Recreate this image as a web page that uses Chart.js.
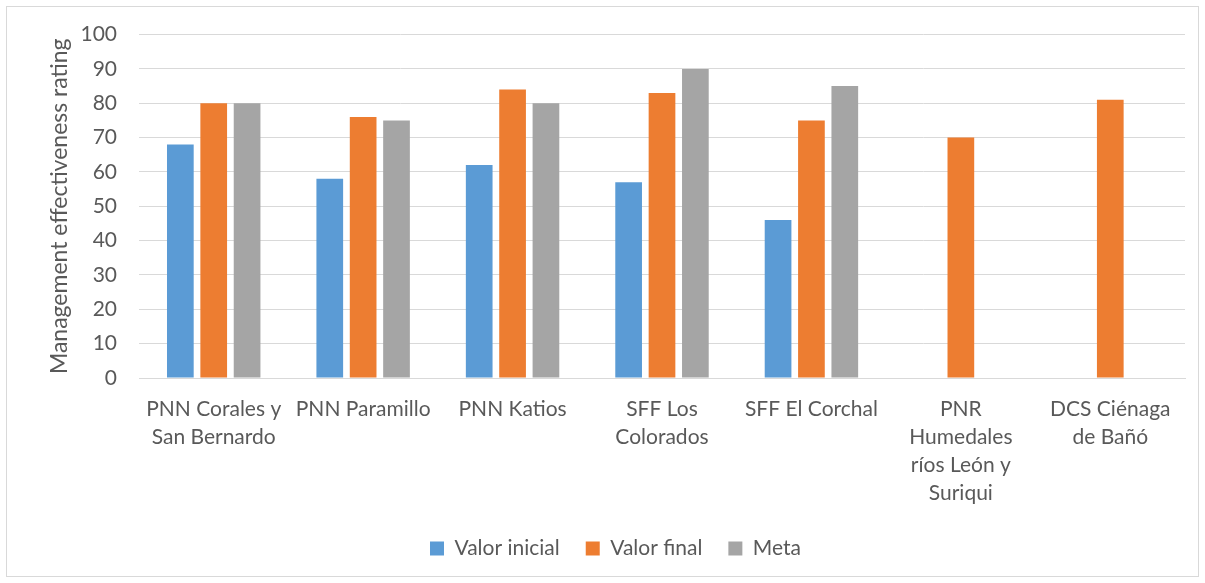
<!DOCTYPE html>
<html>
<head>
<meta charset="utf-8">
<script src="https://cdn.jsdelivr.net/npm/chart.js@4"></script>
<style>
  html, body { margin: 0; padding: 0; background: #fff; }
  #wrap { width: 1205px; height: 583px; position: relative; }
</style>
</head>
<body>
<div id="wrap"><canvas id="c" width="1205" height="583"></canvas></div>
<script>
// Protected areas assessed
const categories = [
  ["PNN Corales y", "San Bernardo"],
  ["PNN Paramillo"],
  ["PNN Katios"],
  ["SFF Los", "Colorados"],
  ["SFF El Corchal"],
  ["PNR", "Humedales", "ríos León y", "Suriqui"],
  ["DCS Ciénaga", "de Bañó"]
];
// Management effectiveness scores
const valorInicial = [68, 58, 62, 57, 46, null, null];
const valorFinal   = [80, 76, 84, 83, 75, 70, 81];
const meta         = [80, 75, 80, 90, 85, null, null];
const seriesNames  = ["Valor inicial", "Valor final", "Meta"];
const yTitle = "Management effectiveness rating";

const FONT = "Lato, 'Open Sans', sans-serif";
const TEXT = "#595959";

// White background with a thin frame around the whole chart
const framePlugin = {
  id: "frame",
  beforeDraw(chart) {
    const ctx = chart.ctx;
    ctx.save();
    ctx.fillStyle = "#fff";
    ctx.fillRect(0, 0, chart.width, chart.height);
    ctx.strokeStyle = "#d9d9d9";
    ctx.lineWidth = 1;
    ctx.strokeRect(6.5, 6.5, chart.width - 13, chart.height - 13);
    ctx.restore();
  }
};

new Chart(document.getElementById("c"), {
  type: "bar",
  data: {
    labels: categories,
    datasets: [
      { label: seriesNames[0], data: valorInicial, backgroundColor: "#5B9BD5" },
      { label: seriesNames[1], data: valorFinal,   backgroundColor: "#ED7D31" },
      { label: seriesNames[2], data: meta,         backgroundColor: "#A5A5A5" }
    ]
  },
  options: {
    responsive: false,
    animation: false,
    devicePixelRatio: 1,
    layout: { padding: { left: 46, right: 20, top: 29, bottom: 14 } },
    datasets: { bar: { barPercentage: 0.8, categoryPercentage: 0.67 } },
    plugins: {
      tooltip: { enabled: false },
      legend: {
        position: "bottom",
        labels: {
          font: { family: FONT, size: 21 },
          color: TEXT,
          boxWidth: 14,
          boxHeight: 14,
          padding: 26
        }
      }
    },
    scales: {
      x: {
        afterFit(scale) { scale.height -= 12; },
        grid: { display: false, drawTicks: false },
        border: { display: true, color: "#d9d9d9", width: 1 },
        ticks: {
          font: { family: FONT, size: 21, lineHeight: "28px" },
          color: TEXT,
          padding: 17,
          maxRotation: 0,
          autoSkip: false
        }
      },
      y: {
        min: 0,
        max: 100,
        afterFit(scale) { scale.width = 93; },
        ticks: {
          stepSize: 10,
          font: { family: FONT, size: 21 },
          color: TEXT,
          padding: 22
        },
        grid: { color: "#d9d9d9", lineWidth: 1, drawTicks: false },
        border: { display: false },
        title: {
          display: true,
          text: yTitle,
          font: { family: FONT, size: 23 },
          color: TEXT,
          padding: { top: 0, bottom: 0 }
        }
      }
    }
  },
  plugins: [framePlugin]
});
</script>
</body>
</html>
